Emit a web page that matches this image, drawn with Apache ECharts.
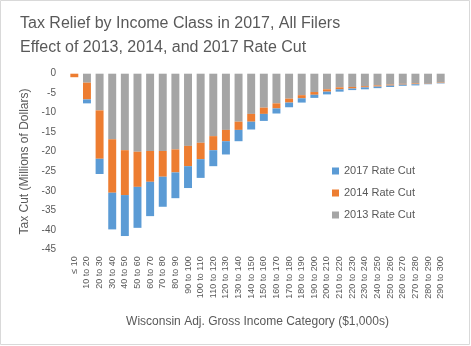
<!DOCTYPE html>
<html>
<head>
<meta charset="utf-8">
<script src="https://cdn.jsdelivr.net/npm/echarts@6/dist/echarts.min.js"></script>
<style>
html,body{margin:0;padding:0;background:#fff;}
#chart{width:471px;height:346px;}
</style>
</head>
<body>
<div id="chart"></div>
<script>
var categories = ['≤ 10','10 to 20','20 to 30','30 to 40','40 to 50','50 to 60','60 to 70','70 to 80','80 to 90','90 to 100',
  '100 to 110','110 to 120','120 to 130','130 to 140','140 to 150','150 to 160','160 to 170','170 to 180','180 to 190','190 to 200',
  '200 to 210','210 to 220','220 to 230','230 to 240','240 to 250','250 to 260','260 to 270','270 to 280','280 to 290','290 to 300'];
var rate2013 = [0, -2.3, -9.4, -16.8, -19.6, -20.0, -19.8, -19.8, -19.4, -18.5,
  -17.7, -16.0, -14.4, -12.3, -10.3, -8.7, -7.6, -6.4, -5.5, -4.7,
  -4.0, -3.5, -3.4, -3.2, -3.0, -2.8, -2.6, -2.5, -2.4, -2.3];
var rate2014 = [-0.9, -4.3, -12.4, -13.7, -11.5, -9.0, -7.9, -6.6, -5.9, -5.2,
  -4.2, -3.6, -2.9, -2.1, -2.0, -1.6, -1.3, -1.0, -0.8, -0.7,
  -0.6, -0.5, -0.4, -0.3, -0.3, -0.25, -0.2, -0.2, -0.15, -0.1];
var rate2017 = [0, -1.0, -3.9, -9.4, -10.5, -10.5, -8.8, -7.7, -6.6, -5.6,
  -4.8, -4.1, -3.4, -2.9, -2.0, -1.8, -1.3, -1.2, -1.1, -0.8,
  -0.7, -0.6, -0.4, -0.5, -0.4, -0.35, -0.3, -0.3, -0.15, -0.1];
var yTicks = {min: -45, max: 0, interval: 5};
var titleText = 'Tax Relief by Income Class in 2017, All Filers\nEffect of 2013, 2014, and 2017 Rate Cut';
var yName = 'Tax Cut (Millions of Dollars)';
var xName = 'Wisconsin Adj. Gross Income Category ($1,000s)';

var FONT = '"Liberation Sans", Arial, sans-serif';
var TXT = '#595959';
var chart = echarts.init(document.getElementById('chart'), null, {renderer: 'canvas'});
chart.setOption({
  animation: false,
  textStyle: {fontFamily: FONT},
  graphic: [{
    type: 'rect', shape: {x: 0.5, y: 0.5, width: 469, height: 344},
    style: {fill: 'none', stroke: '#D9D9D9', lineWidth: 1}, z: -1
  }],
  title: {
    text: titleText, left: 20, top: 12, padding: 0,
    textStyle: {fontFamily: FONT, fontSize: 16, lineHeight: 24, fontWeight: 'normal', color: TXT}
  },
  legend: {
    orient: 'vertical', left: 332, top: 164, padding: 0,
    itemWidth: 7, itemHeight: 7, itemGap: 8, icon: 'rect',
    data: ['2017 Rate Cut', '2014 Rate Cut', '2013 Rate Cut'],
    textStyle: {fontFamily: FONT, fontSize: 11, lineHeight: 14, color: TXT}
  },
  grid: {left: 68, right: 24, top: 73.7, bottom: 96.7, containLabel: false},
  xAxis: {
    type: 'category', data: categories, position: 'bottom',
    axisLine: {show: false, onZero: false}, axisTick: {show: false},
    axisLabel: {rotate: 90, interval: 0, fontSize: 9, margin: 7, color: TXT, fontFamily: FONT},
    name: xName, nameLocation: 'middle', nameGap: 66,
    nameTextStyle: {fontSize: 12, color: TXT, fontFamily: FONT}
  },
  yAxis: {
    type: 'value', min: yTicks.min, max: yTicks.max, interval: yTicks.interval,
    axisLine: {show: false}, axisTick: {show: false}, splitLine: {show: false},
    axisLabel: {fontSize: 10, margin: 12, color: TXT, fontFamily: FONT},
    name: yName, nameLocation: 'middle', nameGap: 33, nameRotate: 90,
    nameTextStyle: {fontSize: 12, color: TXT, fontFamily: FONT}
  },
  series: [
    {name: '2013 Rate Cut', type: 'bar', stack: 'cut', data: rate2013, barCategoryGap: '37%', itemStyle: {color: '#A5A5A5'}},
    {name: '2014 Rate Cut', type: 'bar', stack: 'cut', data: rate2014, itemStyle: {color: '#ED7D31'}},
    {name: '2017 Rate Cut', type: 'bar', stack: 'cut', data: rate2017, itemStyle: {color: '#5B9BD5'}}
  ]
});
</script>
</body>
</html>
